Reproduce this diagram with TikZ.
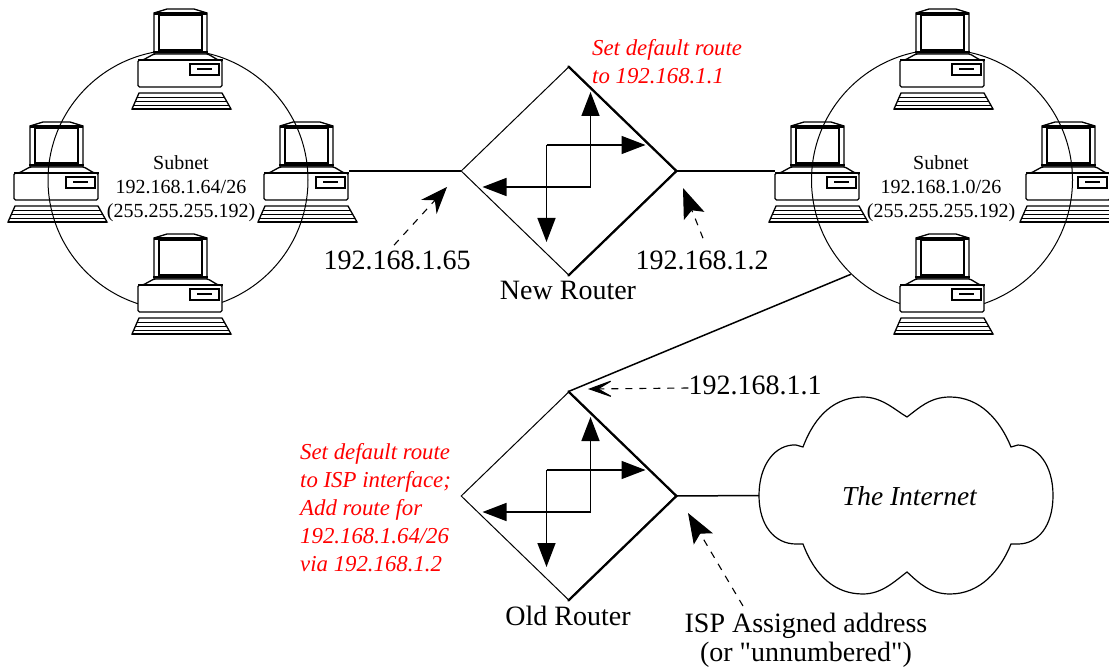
\documentclass[tikz,border=0pt]{standalone}
\usepackage{fontspec}
\setmainfont{Liberation Serif}[Ligatures=TeXOff]
\usetikzlibrary{shapes.geometric,arrows.meta,calc}
\tikzset{
  x=1pt,y=-1pt,
  thinline/.style={line width=1pt,black},
  pcline/.style={line width=1.3pt,black},
  midline/.style={line width=1.5pt,black},
  thickline/.style={line width=2.2pt,black},
  bigtext/.style={inner sep=0pt,font=\fontsize{28}{29}\selectfont,align=center},
  subnettext/.style={inner sep=0pt,font=\fontsize{20}{24}\selectfont,align=center},
  redtext/.style={inner sep=0pt,text=red,font=\fontsize{22.8}{28}\selectfont\itshape,align=left},
  leader/.style={line width=1.1pt,dash pattern=on 7pt off 7pt},
  barbhead/.style={-{Stealth[length=27pt,width=21pt,inset=9pt]}},
  heavyhead/.style={-{Stealth[length=30pt,width=22pt,inset=6pt]}},
  openhead/.style={-{Stealth[length=28pt,width=20pt,inset=17pt]}},
  routerhead/.style={-{Triangle[length=24pt,width=18pt]}},
  subnetring/.style={circle,draw,thinline,inner sep=0pt},
  computer/.pic={
    % monitor
    \draw[pcline,fill=white] (-26,46) -- (-26,5) -- (-13,1) -- (14,1) -- (27,5) -- (27,46) -- cycle;
    \draw[line width=2.4pt] (-26,5.5) -- (27,5.5);
    \draw[pcline] (-21,7) rectangle (22,42);
    \draw[line width=2.4pt] (-27,44) -- (28,44);
    % base
    \draw[pcline,fill=white,rounded corners=1.5pt] (-26,46) -- (-37,52) -- (-42,52) -- (-42,79) -- (42,79) -- (42,52) -- (38,52) -- (28,46) -- cycle;
    \draw[line width=2pt] (-42,52) -- (43,52);
    \draw[pcline] (10,56) rectangle (39,67);
    \draw[line width=1.6pt] (17,61) -- (32,61);
    % keyboard
    \draw[pcline,fill=white] (-41,85) -- (42,85) -- (51,101) -- (-48,101) -- cycle;
    \draw[pcline] (-43,89.5) -- (45,89.5) (-45,93.5) -- (47,93.5) (-47,97.5) -- (49,97.5);
    \draw[line width=1.6pt] (-48,101) -- (51,101);
    \coordinate (-left) at (-42,50);
    \coordinate (-right) at (43,50);
  },
  router/.pic={
    \node[diamond,draw,thinline,inner sep=0pt,minimum width=215pt,minimum height=208pt,aspect=1] (-d) at (0,0) {};
    \draw[thickline,line cap=round,line join=miter] (-d.north) -- (-d.east) -- (-d.south);
    \draw[midline,routerhead] (22,16) -- (22,-79);
    \draw[midline,routerhead] (22,16) -- (-86,16);
    \draw[midline,routerhead] (-22,-26) -- (-22,71);
    \draw[midline,routerhead] (-22,-26) -- (77,-26);
  }
}
\begin{document}
\begin{tikzpicture}
\useasboundingbox (0,0) rectangle (1109,668);
\fill[white] (0,0) rectangle (1109,668);

% left subnet
\pic (aL) at (56,121) {computer};
\pic (aR) at (306,121) {computer};
\node[subnetring,minimum size=260pt] (netA) at (178,180) {};
\pic (aT) at (180,8) {computer};
\pic (aB) at (180,233) {computer};
\node[subnettext] (textA) at (181,189) {Subnet\\192.168.1.64/26\\(255.255.255.192)};

% right subnet
\pic (bL) at (817,121) {computer};
\pic (bR) at (1068,121) {computer};
\node[subnetring,minimum size=261pt] (netB) at (942,180) {};
\pic (bT) at (942,8) {computer};
\pic (bB) at (942,233) {computer};
\node[subnettext] (textB) at (941,189) {Subnet\\192.168.1.0/26\\(255.255.255.192)};

% routers
\pic (r1) at (568.5,171) {router};
\pic (r2) at (568.5,496) {router};

% links
\draw[midline] (aR-right) -- (r1-d.west);
\draw[midline] (r1-d.east) -- (bL-left);
\draw[midline] (netB.226) -- (r2-d.north);

% cloud
\node[inner sep=0pt,font=\fontsize{27.4}{29}\selectfont\itshape,anchor=base] (inet) at (909.5,505) {The Internet};
\coordinate (cloudW) at (759,495.5);
\draw[line width=1.2pt] (cloudW)
  .. controls (759,465) and (775,444) .. (796,445) -- (803,447)
  .. controls (815,415) and (835,397) .. (863,397)
  .. controls (882,397) and (895,410) .. (907,417)
  .. controls (919,408) and (930,397) .. (950,397)
  .. controls (980,397) and (1000,420) .. (1011,447) -- (1018,445)
  .. controls (1038,446) and (1053,465) .. (1053,495.5)
  .. controls (1053,526) and (1038,544) .. (1018,544) -- (1011,544)
  .. controls (1000,571) and (980,594) .. (950,594)
  .. controls (930,594) and (919,583) .. (907,572)
  .. controls (895,581) and (882,594) .. (863,594)
  .. controls (835,594) and (815,576) .. (803,544) -- (796,544)
  .. controls (775,544) and (759,526) .. (cloudW) -- cycle;
\draw[midline] (r2-d.east) -- (cloudW);

% labels
\node[bigtext,anchor=base] (l65) at (397,270) {192.168.1.65};
\node[bigtext,anchor=base] (l2) at (702,270) {192.168.1.2};
\node[bigtext,anchor=base] (newr) at (568,300) {New Router};
\node[bigtext,anchor=base] (oldr) at (568,625) {Old Router};
\node[bigtext,anchor=base] (l1) at (755,395) {192.168.1.1};
\node[bigtext] (isp) at (806,640) {ISP Assigned address\\(or "unnumbered")};
\node[redtext,anchor=north west] (red1) at (592,39) {Set default route\\to 192.168.1.1};
\node[redtext,anchor=north west] (red2) at (300,443) {Set default route\\to ISP interface;\\Add route for\\192.168.1.64/26\\via 192.168.1.2};

% address pointers
\coordinate (tip65) at (447,187);
\coordinate (tip2) at (683,188);
\coordinate (tip1) at (588,389);
\coordinate (tipisp) at (688,513);
\coordinate (ispTail) at (743,606);
\draw[leader,barbhead] ([shift={(-3,-6)}]l65.north) -- (tip65);
\draw[leader,heavyhead] ([shift={(1,-13)}]l2.north) -- (tip2);
\draw[leader,openhead] (l1.west |- 0,388) -- (tip1);
\draw[leader,heavyhead] (ispTail) -- (tipisp);
\end{tikzpicture}
\end{document}
